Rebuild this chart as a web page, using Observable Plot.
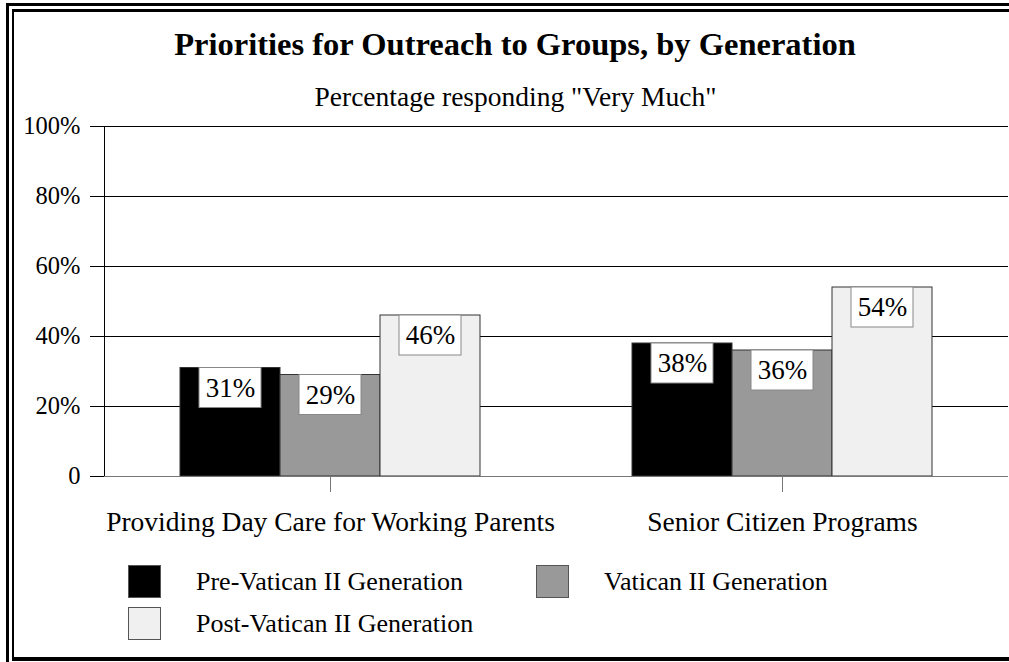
<!DOCTYPE html>
<html>
<head>
<meta charset="utf-8">
<script src="https://cdn.jsdelivr.net/npm/d3@7"></script>
<script src="https://cdn.jsdelivr.net/npm/@observablehq/plot@0.6"></script>
<style>
  html, body { margin: 0; padding: 0; background: #fff; overflow: hidden; }
  #page { position: relative; width: 1009px; height: 662px; overflow: hidden; font-family: "Liberation Serif", "Times New Roman", serif; color: #000; }
  .frame-outer { position: absolute; left: 6px; top: 3px; width: 1100px; height: 800px; border-left: 3px solid #000; border-top: 3px solid #000; }
  .frame-inner { position: absolute; left: 12px; top: 9px; width: 1100px; height: 645px; border-left: 2px solid #000; border-top: 3px solid #000; border-bottom: 4px solid #000; }
  #title { position: absolute; left: 0; width: 1030px; top: 26px; text-align: center; font-weight: bold; font-size: 32.5px; }
  #subtitle { position: absolute; left: 0; width: 1031px; top: 81px; text-align: center; font-size: 27.5px; }
  .layer { position: absolute; left: 0; top: 100px; }
  .lg { position: absolute; font-size: 26px; line-height: 33px; }
  .sw { position: absolute; width: 31px; height: 31px; border: 1px solid #555; }
</style>
</head>
<body>
<div id="page">
  <div class="frame-outer"></div>
  <div class="frame-inner"></div>
  <div id="title"></div>
  <div id="subtitle"></div>
  <div id="back" class="layer"></div>
  <div id="front" class="layer"></div>
  <div id="legend"></div>
</div>
<script>
const titleText = "Priorities for Outreach to Groups, by Generation";
const subtitleText = "Percentage responding \"Very Much\"";
const categories = ["Providing Day Care for Working Parents", "Senior Citizen Programs"];
const generations = ["Pre-Vatican II Generation", "Vatican II Generation", "Post-Vatican II Generation"];
const preVatican = [31, 38];
const vatican = [29, 36];
const postVatican = [46, 54];
const yTicks = [0, 20, 40, 60, 80, 100];
const colors = ["#000000", "#999999", "#f0f0f0"];

document.getElementById("title").textContent = titleText;
document.getElementById("subtitle").textContent = subtitleText;

const series = [preVatican, vatican, postVatican];
const table = [];
categories.forEach((c, i) => {
  generations.forEach((g, j) => {
    table.push({category: c, generation: g, value: series[j][i]});
  });
});

const common = {
  width: 1009,
  height: 450,
  marginLeft: 104,
  marginRight: 1,
  marginTop: 26,
  marginBottom: 74,
  style: {fontFamily: "Liberation Serif, Times New Roman, serif", background: "transparent", color: "#000"}
};

// Background layer: grid, y axis, left axis line
const back = Plot.plot({
  ...common,
  y: {domain: [0, 100]},
  marks: [
    Plot.ruleY(yTicks.filter(d => d > 0), {stroke: "#000", strokeWidth: 1}),
    Plot.axisY(yTicks, {anchor: "left", tickSize: 14, tickPadding: 10, fontSize: 24.5, label: null,
      tickFormat: d => d === 0 ? "0" : d + "%", stroke: "#000", fill: "#000"}),
    Plot.frame({anchor: "left", stroke: "#000"})
  ]
});
document.getElementById("back").appendChild(back);

// Front layer: grouped bars, value labels, category axis
const front = Plot.plot({
  ...common,
  y: {domain: [0, 100], axis: null},
  fx: {domain: categories, padding: 0},
  x: {domain: generations, paddingInner: 0, paddingOuter: 0.76, axis: null},
  color: {domain: generations, range: colors},
  marks: [
    Plot.barY(table, {fx: "category", x: "generation", y: "value", fill: "generation", stroke: "#333", strokeWidth: 1}),
    Plot.barY(table, {fx: "category", x: "generation", y1: "value", y2: "value", fill: "white", stroke: "#888", strokeWidth: 1,
      insetLeft: 19, insetRight: 19, insetBottom: -40}),
    Plot.text(table, {fx: "category", x: "generation", y: "value", text: d => d.value + "%", dy: 20, fontSize: 27, fill: "#000"}),
    Plot.ruleY([0], {stroke: "#777", strokeWidth: 1.2}),
    Plot.axisFx({anchor: "bottom", tickSize: 16, tickPadding: 19, fontSize: 27.5, label: null, stroke: "#777", fill: "#000"})
  ]
});
document.getElementById("front").appendChild(front);

const legendItems = [
  {name: generations[0], color: colors[0], sx: 128, sy: 565, tx: 196},
  {name: generations[1], color: colors[1], sx: 536, sy: 565, tx: 604},
  {name: generations[2], color: colors[2], sx: 128, sy: 607, tx: 196}
];
const lg = document.getElementById("legend");
legendItems.forEach(it => {
  const s = document.createElement("div");
  s.className = "sw";
  s.style.left = it.sx + "px"; s.style.top = it.sy + "px"; s.style.background = it.color;
  lg.appendChild(s);
  const t = document.createElement("div");
  t.className = "lg";
  t.style.left = it.tx + "px"; t.style.top = (it.sy) + "px";
  t.textContent = it.name;
  lg.appendChild(t);
});
</script>
</body>
</html>
